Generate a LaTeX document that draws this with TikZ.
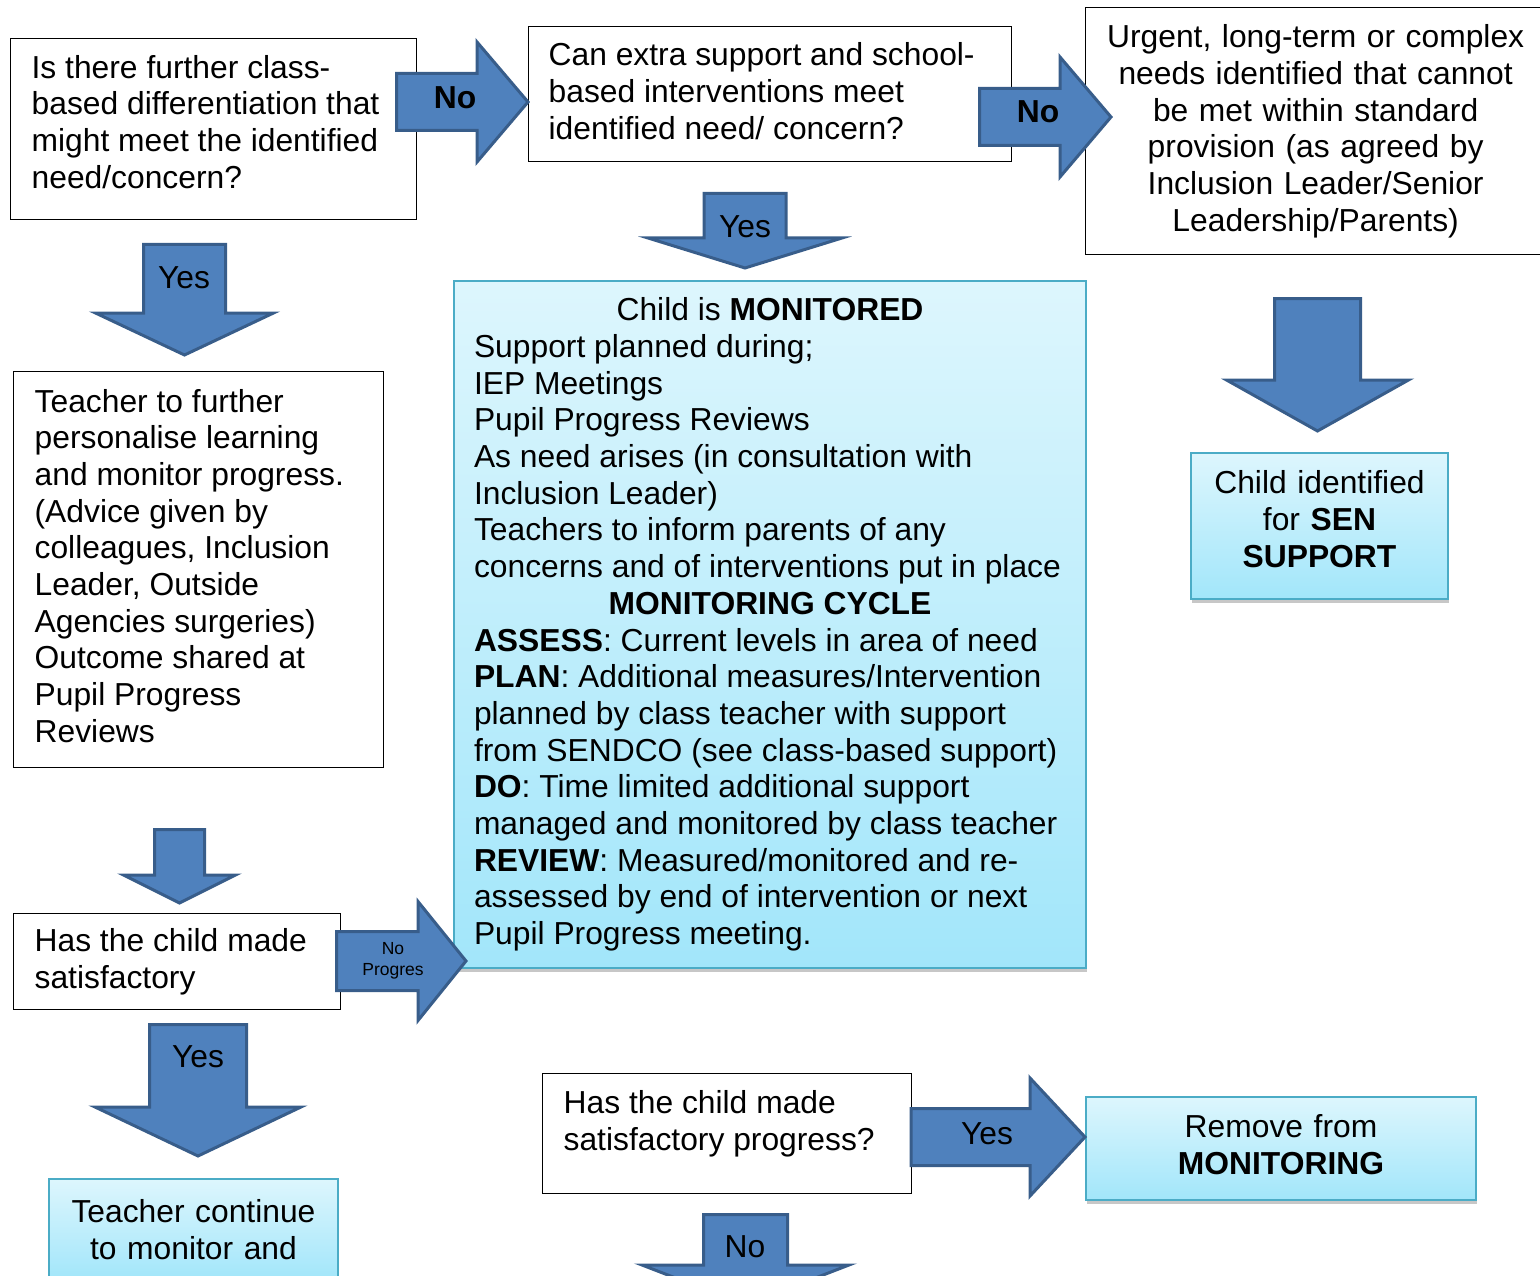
\documentclass[tikz,border=0pt]{standalone}
\usepackage{fontspec}
\setmainfont{Liberation Sans}
\usepackage{tikz}
\usetikzlibrary{positioning, shadows}

\definecolor{arrowfill}{HTML}{4F81BD}
\definecolor{arrowedge}{HTML}{385D8A}
\definecolor{boxedge}{HTML}{4BACC6}
\definecolor{cyantop}{HTML}{DDF6FD}
\definecolor{cyanbot}{HTML}{A2E6FA}
\newcommand{\flowfont}{\fontsize{31.8}{36.7}\selectfont}
\newcommand{\smallflowfont}{\fontsize{17.5}{21}\selectfont}

\tikzset{
  qbox/.style={rectangle, draw=black, line width=1.3pt, fill=white, anchor=north west,
    align=flush left, inner xsep=21pt, inner ysep=0pt, font=\flowfont},
  cyanbox/.style={rectangle, draw=boxedge, line width=2pt, top color=cyantop, bottom color=cyanbot,
    anchor=north west, align=center, inner xsep=10pt, inner ysep=0pt, font=\flowfont,
    drop shadow={shadow xshift=1pt, shadow yshift=-4pt, fill=black!22, opacity=1}},
  bigarrow/.style={draw=arrowedge, fill=arrowfill, line width=3pt, line join=miter},
  arrowlabel/.style={inner sep=0pt, font=\flowfont}
}

\begin{document}
\begin{tikzpicture}[x=1pt, y=-1pt]
\useasboundingbox (0,0) rectangle (1540,1276);

% question boxes
\node[qbox, text width=364pt, minimum width=406pt, minimum height=181pt] (furtherq) at (10,38)
  {Is there further class-\\based differentiation that\\might meet the identified\\need/concern?\rule[-15pt]{0pt}{15pt}};
\node[qbox, inner xsep=20pt, text width=443pt, minimum width=483pt, minimum height=135pt] (extraq) at (528,26)
  {Can extra support and school-\\based interventions meet\\identified need/ concern?\rule[-6pt]{0pt}{6pt}};
\node[qbox, align=center, inner xsep=10pt, text width=440pt, minimum width=460pt, minimum height=247pt] (urgent) at (1085,7)
  {Urgent, long-term or complex\\needs identified that cannot\\be met within standard\\provision (as agreed by\\Inclusion Leader/Senior\\Leadership/Parents)};
\node[qbox, text width=328pt, minimum width=370pt, minimum height=396pt] (personalise) at (13,371)
  {Teacher to further\\personalise learning\\and monitor progress.\\(Advice given by\\colleagues, Inclusion\\Leader, Outside\\Agencies surgeries)\\Outcome shared at\\Pupil Progress\\Reviews\rule[-8pt]{0pt}{8pt}};
\node[qbox, text width=285pt, minimum width=327pt, minimum height=96pt] (progressq) at (13,913)
  {Has the child made\\satisfactory};
\node[qbox, text width=327pt, minimum width=369pt, minimum height=120pt] (progressq2) at (542,1073)
  {Has the child made\\satisfactory progress?\rule[-27pt]{0pt}{27pt}};

% outcome boxes
\node[cyanbox, align=flush left, inner xsep=20pt, text width=592pt, minimum width=632pt, minimum height=687pt] (monitored) at (453,280)
  {\makebox[\linewidth]{Child is \textbf{MONITORED}}\\
   Support planned during;\\
   IEP Meetings\\
   Pupil Progress Reviews\\
   As need arises (in consultation with\\
   Inclusion Leader)\\
   Teachers to inform parents of any\\
   concerns and of interventions put in place\\
   \makebox[\linewidth]{\textbf{MONITORING CYCLE}}\\
   \textbf{ASSESS}: Current levels in area of need\\
   \textbf{PLAN}: Additional measures/Intervention\\
   planned by class teacher with support\\
   from SENDCO (see class-based support)\\
   \textbf{DO}: Time limited additional support\\
   managed and monitored by class teacher\\
   \textbf{REVIEW}: Measured/monitored and re-\\
   assessed by end of intervention or next\\
   Pupil Progress meeting.};
\node[cyanbox, text width=237pt, minimum width=257pt, minimum height=146pt] (sen) at (1190,452)
  {Child identified\\for \textbf{SEN}\\\textbf{SUPPORT}\rule[-14pt]{0pt}{14pt}};
\node[cyanbox, text width=269pt, minimum width=289pt, minimum height=101pt] (continue) at (48,1178)
  {Teacher continue\\to monitor and};
\node[cyanbox, text width=370pt, minimum width=390pt, minimum height=103pt] (remove) at (1085,1096)
  {Remove from\\\textbf{MONITORING}\rule[-8pt]{0pt}{8pt}};

% block arrows
\draw[bigarrow] (396.5,73.5) -- (477,73.5) -- (477,42) -- (528,102) -- (477,162) -- (477,130.5) -- (396.5,130.5) -- cycle;
\draw[bigarrow] (979.5,88.5) -- (1060,88.5) -- (1060,57) -- (1111,117) -- (1060,177) -- (1060,145.5) -- (979.5,145.5) -- cycle;
\draw[bigarrow] (704,193.5) -- (786,193.5) -- (786,238) -- (842,238) -- (745,268) -- (648,238) -- (704,238) -- cycle;
\draw[bigarrow] (143.5,244.5) -- (225.5,244.5) -- (225.5,313) -- (273.5,313) -- (184.5,355) -- (95.5,313) -- (143.5,313) -- cycle;
\draw[bigarrow] (1274.5,298.5) -- (1360.5,298.5) -- (1360.5,380) -- (1408.5,380) -- (1317.5,431) -- (1226.5,380) -- (1274.5,380) -- cycle;
\draw[bigarrow] (154.5,829.5) -- (204.5,829.5) -- (204.5,875) -- (235.5,875) -- (179.5,903) -- (123.5,875) -- (154.5,875) -- cycle;
\draw[bigarrow] (336.5,931.5) -- (418,931.5) -- (418,901.5) -- (466,961) -- (418,1020.5) -- (418,990.5) -- (336.5,990.5) -- cycle;
\draw[bigarrow] (149.5,1024.5) -- (246.5,1024.5) -- (246.5,1107) -- (301,1107) -- (198,1156) -- (95,1107) -- (149.5,1107) -- cycle;
\draw[bigarrow] (911,1108.5) -- (1030,1108.5) -- (1030,1078) -- (1085,1137) -- (1030,1196) -- (1030,1165.5) -- (911,1165.5) -- cycle;
\draw[bigarrow] (703.5,1214.5) -- (787.5,1214.5) -- (787.5,1265) -- (849,1265) -- (745.5,1305) -- (642,1265) -- (703.5,1265) -- cycle;

% arrow labels
\node[arrowlabel, font=\flowfont\bfseries] (no1) at (455,98) {No};
\node[arrowlabel, font=\flowfont\bfseries] (no2) at (1038,112) {No};
\node[arrowlabel] (yes1) at (745,227) {Yes};
\node[arrowlabel] (yes2) at (184,278) {Yes};
\node[arrowlabel, align=center, font=\smallflowfont] (noprog) at (393,961) {No\\Progres};
\node[arrowlabel] (yes3) at (198,1057) {Yes};
\node[arrowlabel] (yes4) at (987,1134) {Yes};
\node[arrowlabel] (no3) at (745,1247) {No};
\end{tikzpicture}
\end{document}
